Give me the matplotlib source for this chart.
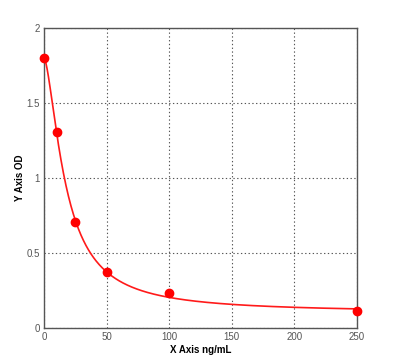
import numpy as np
import matplotlib
matplotlib.use('Agg')
import matplotlib.pyplot as plt

# 標準曲線數據
conc = [0, 10, 25, 50, 100, 250]
od = [1.80, 1.31, 0.71, 0.37, 0.23, 0.11]
x_ticks = [0, 50, 100, 150, 200, 250]
y_ticks = [0, 0.5, 1, 1.5, 2]
y_tick_labels = ['0', '0.5', '1', '1.5', '2']


def fit_4pl(x, y):
    # 對 b, c 做網格搜尋，a, d 用線性最小平方
    x = np.asarray(x, float)
    y = np.asarray(y, float)
    best = None
    for b in np.linspace(0.5, 3.0, 126):
        for c in np.linspace(2, 120, 237):
            g = 1.0 / (1.0 + (x / c) ** b)
            A = np.column_stack([g, 1 - g])
            coef, *_ = np.linalg.lstsq(A, y, rcond=None)
            err = np.sum((A @ coef - y) ** 2)
            if best is None or err < best[0]:
                best = (err, coef[0], b, c, coef[1])
    return best[1:]


a, b, c, d = fit_4pl(conc, od)
xs = np.linspace(0, 250, 500)
ys = d + (a - d) / (1 + (xs / c) ** b)

plt.rcParams['font.family'] = ['Liberation Sans', 'DejaVu Sans']
fig = plt.figure(figsize=(3.94, 3.6), dpi=100)
ax = fig.add_axes([0.1117, 0.0889, 0.7945, 0.8333])

ax.plot(xs, ys, color='#ff1a1a', linewidth=1.2, zorder=3)
ax.plot(conc, od, 'o', color='#ff0000', markersize=6, zorder=4,
        clip_on=False)

ax.set_xlim(0, 250)
ax.set_ylim(0, 2)
ax.set_xticks(x_ticks)
ax.set_yticks(y_ticks)
ax.set_yticklabels(y_tick_labels)
ax.tick_params(length=0, labelsize=7, colors='#555555', pad=3)
ax.grid(True, linestyle=(0, (1.2, 2.2)), color='#555555', linewidth=0.8)
for s in ax.spines.values():
    s.set_color('#555555')
    s.set_linewidth(1.0)

ax.set_xlabel('X Axis ng/mL', fontsize=7, fontweight='bold', labelpad=2)
ax.set_ylabel('Y Axis OD', fontsize=7, fontweight='bold', labelpad=1)

fig.savefig('out.png', dpi=100)
